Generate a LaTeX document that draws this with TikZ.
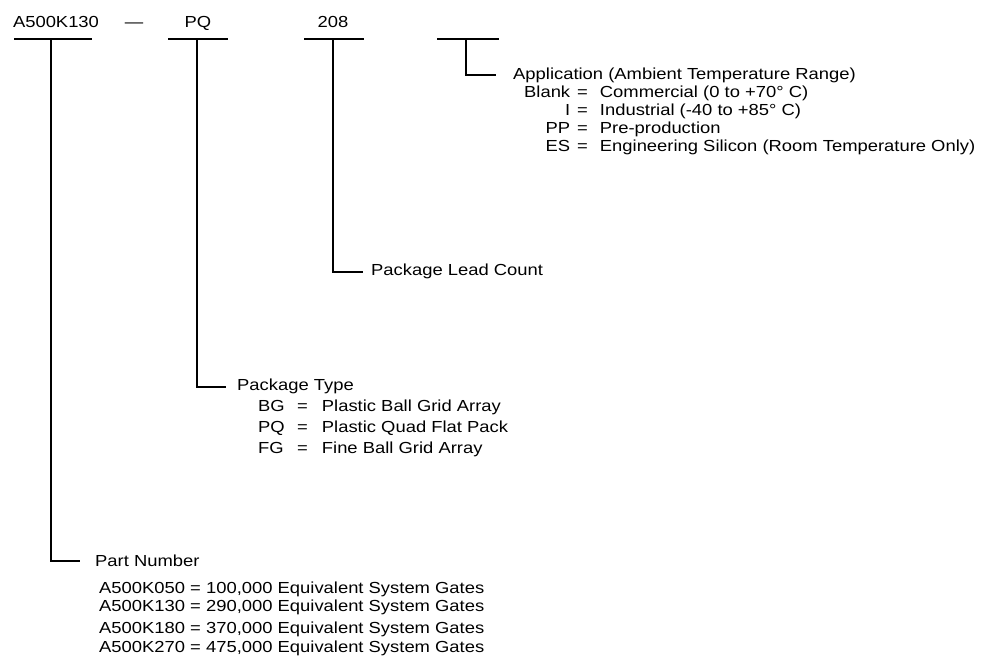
\documentclass[tikz,border=0pt]{standalone}
\usepackage{fontspec}
\setmainfont{Liberation Sans}[FakeStretch=1.15]
\begin{document}
\begin{tikzpicture}[x=1pt,y=-1pt,
  lbl/.style={anchor=base west, inner sep=0pt, font=\fontsize{16}{18}\selectfont},
  toplbl/.style={lbl, anchor=base},
  bar/.style={line width=1.6pt, line cap=butt}]
\fill[white] (0,0) rectangle (993,660);
\useasboundingbox (0,0) rectangle (993,660);

% top code labels
\node[toplbl] (pn)   at (56,27.75)  {A500K130};
\node[toplbl] (dash) at (134,27.75) {—};
\node[toplbl] (pq)   at (198,27.75) {PQ};
\node[toplbl] (lc)   at (333,27.75) {208};

% bar coordinates
\coordinate (b1l) at (14,39);  \coordinate (b1r) at (92,39);  \coordinate (b1) at (51,39);
\coordinate (b2l) at (168,39); \coordinate (b2r) at (228,39); \coordinate (b2) at (197,39);
\coordinate (b3l) at (304,39); \coordinate (b3r) at (364,39); \coordinate (b3) at (333,39);
\coordinate (b4l) at (437,39); \coordinate (b4r) at (499,39); \coordinate (b4) at (466,39);
\coordinate (e1) at (80,561);
\coordinate (e2) at (226,387);
\coordinate (e3) at (363,272);
\coordinate (e4) at (496,75);

\draw[bar] (b1l) -- (b1r);
\draw[bar] (b2l) -- (b2r);
\draw[bar] (b3l) -- (b3r);
\draw[bar] (b4l) -- (b4r);
\draw[bar] (b1) |- (e1);
\draw[bar] (b2) |- (e2);
\draw[bar] (b3) |- (e3);
\draw[bar] (b4) |- (e4);

% Application
\node[lbl] (app) at (513,79.75) {Application (Ambient Temperature Range)};
\node[lbl] (a1) at (522,97.75)  {\makebox[48pt][r]{Blank}\hspace{7pt}=\hspace{12pt}Commercial (0 to +70° C)};
\node[lbl] (a2) at (522,115.75) {\makebox[48pt][r]{I}\hspace{7pt}=\hspace{12pt}Industrial (-40 to +85° C)};
\node[lbl] (a3) at (522,133.75) {\makebox[48pt][r]{PP}\hspace{7pt}=\hspace{12pt}Pre-production};
\node[lbl] (a4) at (522,151.75) {\makebox[48pt][r]{ES}\hspace{7pt}=\hspace{12pt}Engineering Silicon (Room Temperature Only)};

% Lead count
\node[lbl] (lcount) at (371,275.75) {Package Lead Count};

% Package type
\node[lbl] (ptype) at (237,390.75) {Package Type};
\node[lbl] (p1) at (258,411.75) {\makebox[28pt][l]{BG}\hspace{11pt}=\hspace{14pt}Plastic Ball Grid Array};
\node[lbl] (p2) at (258,432.75) {\makebox[28pt][l]{PQ}\hspace{11pt}=\hspace{14pt}Plastic Quad Flat Pack};
\node[lbl] (p3) at (258,453.75) {\makebox[28pt][l]{FG}\hspace{11pt}=\hspace{14pt}Fine Ball Grid Array};

% Part number
\node[lbl] (pnum) at (95,566.75) {Part Number};
\node[lbl] (n1) at (99,593.75) {A500K050 = 100,000 Equivalent System Gates};
\node[lbl] (n2) at (99,611.75) {A500K130 = 290,000 Equivalent System Gates};
\node[lbl] (n3) at (99,633.75) {A500K180 = 370,000 Equivalent System Gates};
\node[lbl] (n4) at (99,652.75) {A500K270 = 475,000 Equivalent System Gates};
\end{tikzpicture}
\end{document}
